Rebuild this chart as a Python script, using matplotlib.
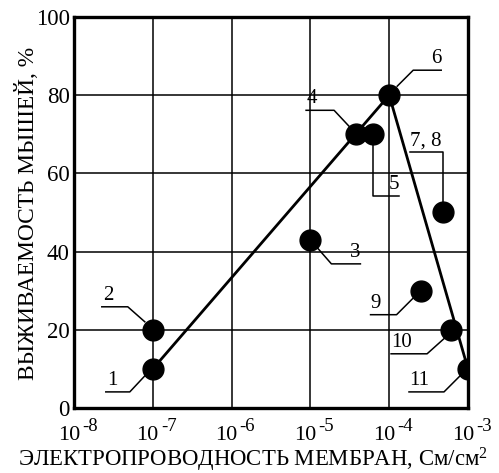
import matplotlib
matplotlib.use("Agg")
import matplotlib.pyplot as plt
from matplotlib.lines import Line2D

plt.rcParams['font.family'] = ['Liberation Serif', 'DejaVu Serif']
plt.rcParams['mathtext.fontset'] = 'custom'
plt.rcParams['mathtext.rm'] = 'Liberation Serif'
plt.rcParams['mathtext.it'] = 'Liberation Serif:italic'

# data
conductivity = [1e-7, 1e-7, 1e-5, 3.8e-5, 6.3e-5, 1e-4, 4.8e-4, 2.5e-4, 6.1e-4, 1e-3]
survival = [10, 20, 43, 70, 70, 80, 50, 30, 20, 10]
point_labels = ["1", "2", "3", "4", "5", "6", "7, 8", "9", "10", "11"]

# trend line (points 1 -> 6 -> 11)
trend_x = [1e-7, 1e-4, 1e-3]
trend_y = [10, 80, 10]

x_exponents = [-8, -7, -6, -5, -4, -3]
y_ticks = [0, 20, 40, 60, 80, 100]

# leader lines: pixel offsets from marker centre, text offset and alignment
leaders = {
    "1": ([(-8, -7), (-23, -23), (-47, -23)], (-46, -21), "left"),
    "2": ([(-8, 8), (-25, 23), (-51, 23)], (-50, 25), "left"),
    "3": ([(7, -8), (21, -24), (50, -24)], (50, -22), "right"),
    "4": ([(-7, 8), (-22, 24), (-50, 24)], (-49, 26), "left"),
    "5": ([(0, -10), (0, -62), (26, -62)], (26, -60), "right"),
    "6": ([(8, 9), (24, 25), (52, 25)], (52, 27), "right"),
    "7, 8": ([(0, 10), (0, 60), (-33, 60)], (-33, 62), "left"),
    "9": ([(-8, -8), (-24, -24), (-50, -24)], (-50, -22), "left"),
    "10": ([(-5, -7), (-24, -24), (-60, -24)], (-60, -22), "left"),
    "11": ([(-8, -7), (-24, -23), (-59, -23)], (-59, -21), "left"),
}

W, H = 499, 473
fig = plt.figure(figsize=(W / 100, H / 100), dpi=100)
ax = fig.add_axes([74 / W, 1 - 408 / H, 394 / W, 391 / H])

ax.set_xscale('log')
ax.set_xlim(1e-8, 1e-3)
ax.set_ylim(0, 100)
ax.set_xticks([10.0 ** e for e in x_exponents])
ax.xaxis.set_minor_locator(plt.NullLocator())
ax.set_xticklabels([])
ax.set_yticks(y_ticks)
ax.grid(True, color='black', linewidth=1.1)
ax.set_axisbelow(True)
ax.tick_params(length=0, labelsize=16.5, pad=3)
for s in ax.spines.values():
    s.set_linewidth(2.4)

ax.plot(trend_x, trend_y, color='black', linewidth=2.0, zorder=3)
ax.plot(conductivity, survival, 'o', color='black', markersize=15, zorder=4)

# x tick labels as 10 with a large raised exponent
for e in x_exponents:
    tx, _ = ax.transData.transform((10.0 ** e, 0))
    fig.text((tx + 6) / W, 33 / H, "10", ha='right', va='baseline', fontsize=16)
    fig.text((tx + 8) / W, 42 / H, str(e), ha='left', va='baseline', fontsize=13.5)

fig.text(253 / W, 13 / H, "ЭЛЕКТРОПРОВОДНОСТЬ МЕМБРАН, См/см$^2$",
         ha='center', va='center', fontsize=16.4)
fig.text(27 / W, 1 - 213 / H, "ВЫЖИВАЕМОСТЬ МЫШЕЙ, %", rotation=90,
         ha='center', va='center', fontsize=16.8)

to_fig = fig.transFigure.inverted()
for xv, yv, lab in zip(conductivity, survival, point_labels):
    path, (tx, ty), ha = leaders[lab]
    cx, cy = ax.transData.transform((xv, yv))
    pts = [to_fig.transform((cx + dx, cy + dy)) for dx, dy in path]
    fig.add_artist(Line2D([p[0] for p in pts], [p[1] for p in pts],
                          color='black', linewidth=1.1, transform=fig.transFigure))
    px, py = to_fig.transform((cx + tx, cy + ty))
    fig.text(px, py, lab, ha=ha, va='bottom', fontsize=15)

fig.savefig("out.png", dpi=100)
